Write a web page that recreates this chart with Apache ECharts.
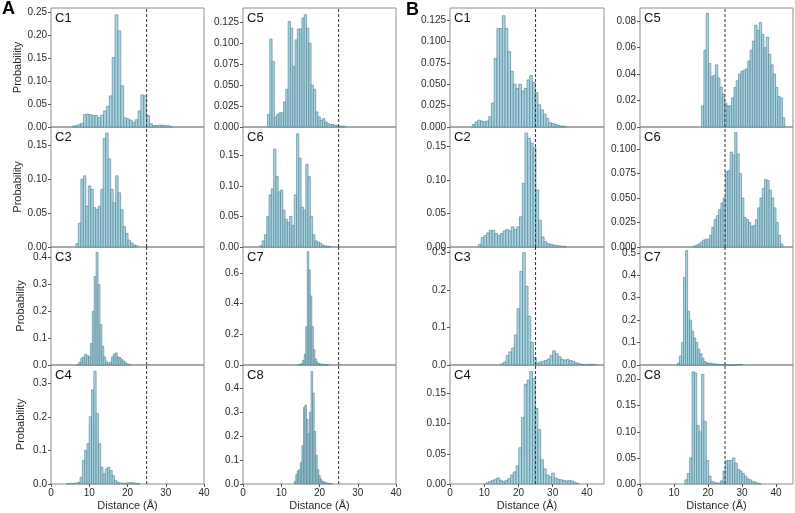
<!DOCTYPE html>
<html>
<head>
<meta charset="utf-8">
<script src="https://cdn.jsdelivr.net/npm/echarts@6/dist/echarts.min.js"></script>
<style>
  html, body { margin: 0; padding: 0; background: #fff; }
  #chart { width: 795px; height: 513px; }
</style>
</head>
<body>
<div id="chart"></div>
<script>
// cutoff distance (dashed line)
const CUTOFF = 25;

// histogram bins: start of first bin, bin width, probability per bin
// panel A
const aC1 = { start: 5.5, step: 0.75, p: [0.002, 0.003, 0.005, 0.008, 0.027, 0.028, 0.027, 0.025, 0.025, 0.02, 0.026, 0.035, 0.045, 0.068, 0.152, 0.245, 0.21, 0.09, 0.02, 0.018, 0.015, 0.01, 0.016, 0.035, 0.07, 0.068, 0.025, 0.007, 0.003, 0.003, 0.004, 0.004, 0.003, 0.003, 0.001] };
const aC2 = { start: 6.5, step: 0.65, p: [0.005, 0.035, 0.1, 0.105, 0.06, 0.09, 0.085, 0.058, 0.055, 0.06, 0.085, 0.16, 0.168, 0.13, 0.085, 0.065, 0.105, 0.08, 0.055, 0.03, 0.02, 0.01, 0.006, 0.003, 0.002] };
const aC3 = { start: 6.8, step: 0.5, p: [0.003, 0.01, 0.025, 0.03, 0.04, 0.035, 0.03, 0.08, 0.2, 0.33, 0.42, 0.3, 0.15, 0.07, 0.03, 0.012, 0.005, 0.01, 0.03, 0.04, 0.045, 0.03, 0.028, 0.02, 0.015, 0.008, 0.004, 0.002] };
const aC4 = { start: 4.0, step: 0.6, p: [0.001, 0.001, 0.002, 0.002, 0.003, 0.005, 0.02, 0.07, 0.1, 0.12, 0.2, 0.28, 0.335, 0.21, 0.12, 0.05, 0.03, 0.045, 0.05, 0.04, 0.025, 0.01, 0.005, 0.003, 0.002, 0.002, 0.003, 0.004, 0.004, 0.003, 0.002, 0.001] };
const aC5 = { start: 6.4, step: 0.6, p: [0.015, 0.105, 0.078, 0.012, 0.015, 0.017, 0.017, 0.03, 0.045, 0.126, 0.118, 0.072, 0.104, 0.117, 0.117, 0.13, 0.134, 0.118, 0.1, 0.05, 0.045, 0.018, 0.012, 0.008, 0.01, 0.006, 0.004, 0.003, 0.003, 0.002, 0.002, 0.001, 0.001, 0.001] };
const aC6 = { start: 4.4, step: 0.6, p: [0.002, 0.01, 0.02, 0.05, 0.085, 0.095, 0.16, 0.115, 0.09, 0.093, 0.06, 0.045, 0.04, 0.05, 0.035, 0.085, 0.185, 0.145, 0.065, 0.06, 0.135, 0.115, 0.05, 0.02, 0.01, 0.008, 0.006, 0.003, 0.002, 0.001, 0.001] };
const aC7 = { start: 14.4, step: 0.4, p: [0.003, 0.005, 0.01, 0.03, 0.07, 0.25, 0.74, 0.62, 0.45, 0.25, 0.1, 0.04, 0.02, 0.01, 0.007, 0.005, 0.004, 0.003, 0.002, 0.002] };
const aC8 = { start: 13.4, step: 0.4, p: [0.01, 0.04, 0.055, 0.06, 0.09, 0.16, 0.32, 0.33, 0.27, 0.21, 0.3, 0.47, 0.38, 0.22, 0.12, 0.06, 0.035, 0.02, 0.012, 0.008, 0.006, 0.004, 0.003, 0.002, 0.001] };
// panel B
const bC1 = { start: 6.5, step: 0.8, p: [0.003, 0.006, 0.008, 0.007, 0.006, 0.007, 0.012, 0.028, 0.08, 0.115, 0.115, 0.13, 0.115, 0.088, 0.065, 0.05, 0.045, 0.05, 0.042, 0.045, 0.055, 0.06, 0.052, 0.04, 0.026, 0.02, 0.015, 0.01, 0.005, 0.004, 0.003, 0.002, 0.001, 0.001] };
const bC2 = { start: 8.3, step: 0.8, p: [0.004, 0.014, 0.017, 0.021, 0.025, 0.025, 0.02, 0.017, 0.02, 0.024, 0.026, 0.024, 0.03, 0.026, 0.03, 0.045, 0.095, 0.17, 0.162, 0.155, 0.148, 0.085, 0.04, 0.015, 0.008, 0.005, 0.004, 0.003, 0.002, 0.002, 0.001, 0.001] };
const bC3 = { start: 14.8, step: 0.8, p: [0.003, 0.008, 0.025, 0.035, 0.045, 0.08, 0.15, 0.25, 0.3, 0.21, 0.13, 0.06, 0.02, 0.005, 0.008, 0.01, 0.012, 0.016, 0.025, 0.038, 0.03, 0.022, 0.015, 0.013, 0.015, 0.012, 0.01, 0.006, 0.004, 0.002, 0.001, 0.001, 0.002, 0.002, 0.001] };
const bC4 = { start: 10.5, step: 0.8, p: [0.002, 0.004, 0.006, 0.008, 0.01, 0.006, 0.004, 0.006, 0.009, 0.015, 0.02, 0.03, 0.06, 0.11, 0.165, 0.172, 0.186, 0.175, 0.125, 0.09, 0.04, 0.025, 0.015, 0.012, 0.018, 0.01, 0.008, 0.007, 0.006, 0.005, 0.006, 0.005, 0.003, 0.001] };
const bC5 = { start: 18.1, step: 0.68, p: [0.016, 0.058, 0.086, 0.048, 0.038, 0.039, 0.047, 0.037, 0.03, 0.025, 0.018, 0.016, 0.016, 0.022, 0.03, 0.035, 0.04, 0.042, 0.043, 0.044, 0.05, 0.058, 0.065, 0.077, 0.073, 0.079, 0.07, 0.06, 0.068, 0.055, 0.047, 0.04, 0.03, 0.023, 0.022, 0.007] };
const bC6 = { start: 15.7, step: 0.675, p: [0.001, 0.002, 0.003, 0.005, 0.007, 0.008, 0.008, 0.012, 0.02, 0.028, 0.032, 0.038, 0.045, 0.05, 0.077, 0.078, 0.097, 0.094, 0.117, 0.095, 0.075, 0.05, 0.03, 0.028, 0.025, 0.021, 0.022, 0.028, 0.04, 0.05, 0.06, 0.069, 0.068, 0.058, 0.05, 0.04, 0.025, 0.012, 0.003] };
const bC7 = { start: 11.0, step: 0.6, p: [0.008, 0.04, 0.1, 0.39, 0.51, 0.24, 0.2, 0.15, 0.12, 0.1, 0.07, 0.05, 0.03, 0.015, 0.01, 0.008, 0.008, 0.006, 0.005, 0.004, 0.003, 0.002, 0.001, 0.001, 0, 0, 0, 0, 0.001, 0.002, 0.002, 0.001] };
const bC8 = { start: 13.2, step: 0.7, p: [0.008, 0.02, 0.05, 0.215, 0.213, 0.112, 0.1, 0.21, 0.12, 0.045, 0.015, 0.005, 0.003, 0.002, 0.002, 0.006, 0.025, 0.045, 0.045, 0.045, 0.05, 0.04, 0.028, 0.025, 0.02, 0.015, 0.01, 0.008, 0.005, 0.004, 0.002, 0.001] };

const panelTags = ['C1', 'C2', 'C3', 'C4', 'C5', 'C6', 'C7', 'C8', 'C1', 'C2', 'C3', 'C4', 'C5', 'C6', 'C7', 'C8'];
const panelData = [aC1, aC2, aC3, aC4, aC5, aC6, aC7, aC8, bC1, bC2, bC3, bC4, bC5, bC6, bC7, bC8];
// y axis range and tick step per panel
const yMax = [0.26, 0.177, 0.44, 0.354, 0.142, 0.196, 0.77, 0.497, 0.139, 0.179, 0.315, 0.197, 0.09, 0.1226, 0.526, 0.228];
const yStep = [0.05, 0.05, 0.1, 0.1, 0.025, 0.05, 0.2, 0.1, 0.025, 0.05, 0.1, 0.05, 0.02, 0.025, 0.1, 0.05];

// layout
const COLS = [
    { left: 51, width: 153, xMax: 40 },
    { left: 243, width: 153, xMax: 40 },
    { left: 450, width: 154, xMax: 45 },
    { left: 640, width: 153, xMax: 45 }
];
const ROW_TOP = [8, 127, 247, 365];
const ROW_H = [119, 120, 118, 119];

const FONT = '"Liberation Sans", Arial, sans-serif';
const BAR_FILL = '#a8d6e4';
const BAR_EDGE = '#4f7a89';
const TEXT = '#2b2b2b';
const BORDER = '#8c8c8c';

const chart = echarts.init(document.getElementById('chart'));

function toBins(d) {
    return d.p.map((v, k) => [d.start + k * d.step, d.start + (k + 1) * d.step, v]);
}

function decimals(step) {
    const s = String(step);
    return s.indexOf('.') < 0 ? 0 : s.split('.')[1].length;
}

function renderBar(params, api) {
    const a = api.coord([api.value(0), api.value(2)]);
    const b = api.coord([api.value(1), 0]);
    return {
        type: 'rect',
        shape: { x: a[0], y: a[1], width: b[0] - a[0], height: b[1] - a[1] },
        style: { fill: BAR_FILL, stroke: BAR_EDGE, lineWidth: 0.6 }
    };
}

const grid = [], xAxis = [], yAxis = [], series = [];
const title = [
    { text: 'A', left: 2, top: 0, padding: 0, textStyle: { fontSize: 18, fontWeight: 'bold', color: '#000', fontFamily: FONT } },
    { text: 'B', left: 406, top: 1, padding: 0, textStyle: { fontSize: 18, fontWeight: 'bold', color: '#000', fontFamily: FONT } }
];

panelData.forEach((d, i) => {
    const col = Math.floor(i / 4);
    const row = i % 4;
    const c = COLS[col];
    const bottom = row === 3;
    const dec = decimals(yStep[i]);

    grid.push({
        left: c.left, top: ROW_TOP[row], width: c.width, height: ROW_H[row],
        show: true, borderColor: BORDER, borderWidth: 1, backgroundColor: 'transparent'
    });
    xAxis.push({
        type: 'value', gridIndex: i, min: 0, max: c.xMax, interval: 10,
        axisLine: { show: false }, splitLine: { show: false },
        axisTick: { show: bottom, length: 3, lineStyle: { color: '#555' } },
        axisLabel: { show: bottom, showMaxLabel: c.xMax === 40, fontSize: 10, color: TEXT, margin: 4, fontFamily: FONT },
        name: bottom ? 'Distance (Å)' : '', nameLocation: 'middle', nameGap: 16,
        nameTextStyle: { fontSize: 11, color: TEXT, fontFamily: FONT }
    });
    yAxis.push({
        type: 'value', gridIndex: i, min: 0, max: yMax[i], interval: yStep[i],
        axisLine: { show: false }, splitLine: { show: false },
        axisTick: { show: true, length: 3, lineStyle: { color: '#555' } },
        axisLabel: { fontSize: 10, color: TEXT, margin: 4, showMaxLabel: false, fontFamily: FONT, formatter: v => v.toFixed(dec) },
        name: col === 0 ? 'Probability' : '', nameLocation: 'middle', nameGap: 25,
        nameTextStyle: { fontSize: 11, color: TEXT, fontFamily: FONT }
    });
    series.push({
        type: 'custom', xAxisIndex: i, yAxisIndex: i,
        data: toBins(d), encode: { x: [0, 1], y: 2 },
        renderItem: renderBar, silent: true
    });
    series.push({
        type: 'line', xAxisIndex: i, yAxisIndex: i,
        data: [[CUTOFF, 0], [CUTOFF, yMax[i]]],
        symbol: 'none', silent: true, z: 5,
        lineStyle: { color: '#333', width: 1, type: [3, 2] }
    });
    title.push({
        text: panelTags[i], left: c.left + 4, top: ROW_TOP[row] + 4, padding: 0,
        textStyle: { fontSize: 13, fontWeight: 'normal', color: '#111', fontFamily: FONT }
    });
});

chart.setOption({
    animation: false,
    title: title,
    grid: grid,
    xAxis: xAxis,
    yAxis: yAxis,
    series: series
});
</script>
</body>
</html>
